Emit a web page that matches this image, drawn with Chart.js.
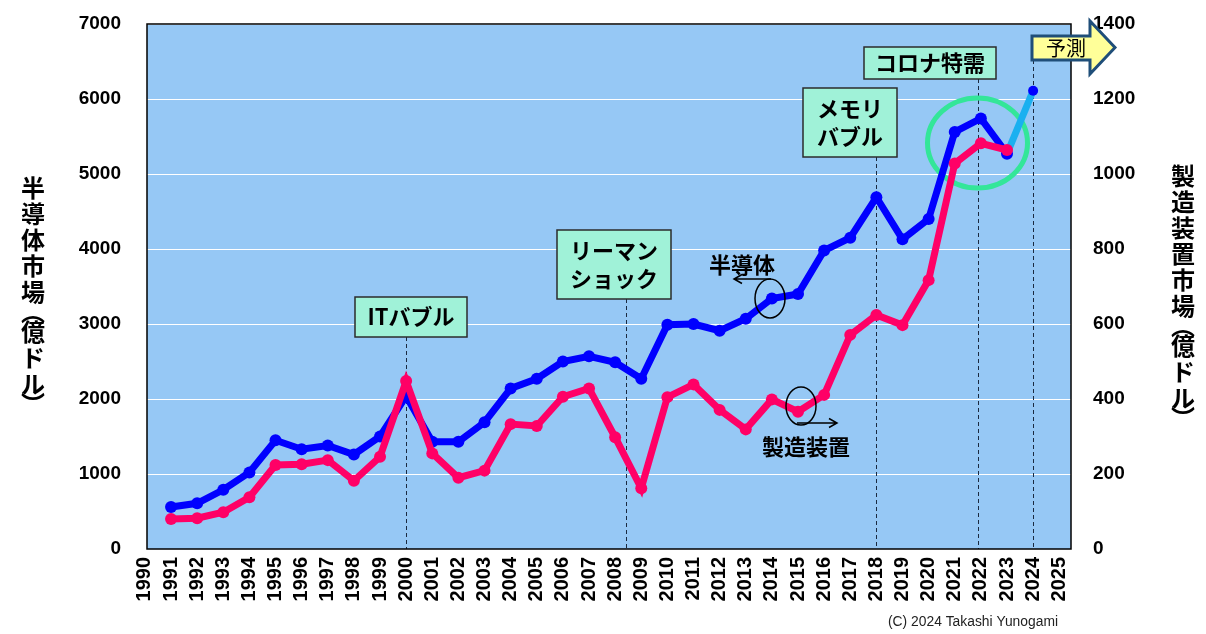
<!DOCTYPE html>
<html>
<head>
<meta charset="utf-8">
<script src="https://cdn.jsdelivr.net/npm/chart.js@4"></script>
<style>
html,body{margin:0;padding:0;background:#fff;}
#wrap{width:1206px;height:634px;position:relative;}
</style>
</head>
<body>
<div id="wrap"><canvas id="c"></canvas></div>
<script>
// ---- data ----
const years = [1991,1992,1993,1994,1995,1996,1997,1998,1999,2000,2001,2002,2003,2004,2005,2006,2007,2008,2009,2010,2011,2012,2013,2014,2015,2016,2017,2018,2019,2020,2021,2022,2023];
const semiconductorMarket = [560,610,790,1020,1450,1330,1380,1260,1500,2040,1430,1430,1690,2140,2270,2500,2570,2490,2270,2990,3000,2910,3070,3340,3400,3980,4150,4690,4130,4400,5560,5740,5270];
const equipmentMarket = [80,82,98,138,224,226,237,182,246,448,255,190,209,333,328,406,428,298,162,405,439,371,319,399,366,411,571,624,597,717,1028,1082,1064];
const forecastYears = [2023,2024];
const forecastValues = [5270,6110];
const axisYears = [1990,1991,1992,1993,1994,1995,1996,1997,1998,1999,2000,2001,2002,2003,2004,2005,2006,2007,2008,2009,2010,2011,2012,2013,2014,2015,2016,2017,2018,2019,2020,2021,2022,2023,2024,2025];
const leftTicks = [0,1000,2000,3000,4000,5000,6000,7000];
const rightTicks = [0,200,400,600,800,1000,1200,1400];
const leftTitle = ['半','導','体','市','場','︵','億','ド','ル','︶'];
const rightTitle = ['製','造','装','置','市','場','︵','億','ド','ル','︶'];

const JP = "'Noto Sans CJK JP','Noto Sans CJK SC',sans-serif";
const NUM = "'Liberation Sans',Arial,sans-serif";

function drawVertical(ctx, chars, x, y0, step, parenStep){
  ctx.save();
  ctx.font = "bold 24px " + JP;
  ctx.fillStyle = '#000';
  ctx.textAlign = 'center';
  ctx.textBaseline = 'middle';
  let y = y0;
  chars.forEach((ch, i) => {
    const isParen = (ch === '︵' || ch === '︶');
    if (i > 0) {
      const prevParen = (chars[i-1] === '︵' || chars[i-1] === '︶');
      y += (isParen || prevParen) ? parenStep : step;
    }
    ctx.fillText(ch, x, y);
  });
  ctx.restore();
}

function box(ctx, x1, y1, x2, y2, lines, lineGap){
  ctx.save();
  ctx.fillStyle = '#a0f2d8';
  ctx.strokeStyle = '#2b2b2b';
  ctx.lineWidth = 1.5;
  ctx.fillRect(x1, y1, x2-x1, y2-y1);
  ctx.strokeRect(x1, y1, x2-x1, y2-y1);
  ctx.fillStyle = '#000';
  ctx.font = "bold 22px " + JP;
  ctx.textAlign = 'center';
  ctx.textBaseline = 'middle';
  const cx = (x1+x2)/2, cy = (y1+y2)/2;
  const n = lines.length;
  lines.forEach((t,i) => ctx.fillText(t, cx, cy + (i-(n-1)/2)*lineGap));
  ctx.restore();
}

const annot = {
  id: 'annot',
  beforeDraw(chart){
    const {ctx, chartArea:a} = chart;
    ctx.save();
    ctx.fillStyle = '#96c8f5';
    ctx.fillRect(a.left, a.top, a.right-a.left, a.bottom-a.top);
    ctx.restore();
  },
  beforeDatasetsDraw(chart){
    const {ctx, chartArea:a, scales} = chart;
    const xs = scales.x;
    ctx.save();
    ctx.strokeStyle = '#1a2a40';
    ctx.lineWidth = 1;
    ctx.setLineDash([4,3]);
    const marks = [[2000,337],[2008.4,299],[2018,157],[2021.9,79],[2024,60]];
    marks.forEach(([yr, top]) => {
      const px = Math.round(xs.getPixelForValue(yr)) + 0.5;
      ctx.beginPath(); ctx.moveTo(px, top); ctx.lineTo(px, a.bottom); ctx.stroke();
    });
    ctx.setLineDash([]);
    // green ellipse
    ctx.strokeStyle = '#33e699';
    ctx.lineWidth = 5;
    ctx.beginPath();
    ctx.ellipse(977.5, 143, 50, 45, 0, 0, Math.PI*2);
    ctx.stroke();
    ctx.restore();
  },
  afterDatasetsDraw(chart){
    const {ctx, chartArea:a} = chart;
    ctx.save();
    // plot border
    ctx.strokeStyle = '#000';
    ctx.lineWidth = 1.5;
    ctx.strokeRect(a.left, a.top, a.right-a.left, a.bottom-a.top);

    // boxes
    box(ctx, 355, 297, 467, 337, ['ITバブル'], 28);
    box(ctx, 557, 230, 671, 299, ['リーマン','ショック'], 28);
    box(ctx, 803, 88, 897, 157, ['メモリ','バブル'], 28);
    box(ctx, 864, 47, 996, 79, ['コロナ特需'], 28);

    // forecast arrow
    ctx.beginPath();
    ctx.moveTo(1032, 36);
    ctx.lineTo(1090, 36);
    ctx.lineTo(1090, 21);
    ctx.lineTo(1115, 47.5);
    ctx.lineTo(1090, 74);
    ctx.lineTo(1090, 60);
    ctx.lineTo(1032, 60);
    ctx.closePath();
    ctx.fillStyle = '#ffff99';
    ctx.fill();
    ctx.strokeStyle = '#1f4e79';
    ctx.lineWidth = 3;
    ctx.lineJoin = 'miter';
    ctx.stroke();
    ctx.fillStyle = '#000';
    ctx.font = "20px " + JP;
    ctx.textAlign = 'center';
    ctx.textBaseline = 'middle';
    ctx.fillText('予測', 1066, 48);

    // series labels with ellipses and arrows
    ctx.strokeStyle = '#000';
    ctx.lineWidth = 1.5;
    ctx.beginPath(); ctx.ellipse(770, 298.5, 15, 19.5, 0, 0, Math.PI*2); ctx.stroke();
    ctx.beginPath(); ctx.ellipse(801, 406, 15, 19, 0, 0, Math.PI*2); ctx.stroke();
    // arrow left (半導体)
    ctx.beginPath();
    ctx.moveTo(771, 279); ctx.lineTo(734, 279);
    ctx.moveTo(742, 274.5); ctx.lineTo(734, 279); ctx.lineTo(742, 283.5);
    ctx.stroke();
    // arrow right (製造装置)
    ctx.beginPath();
    ctx.moveTo(797, 423); ctx.lineTo(837, 423);
    ctx.moveTo(829, 418.5); ctx.lineTo(837, 423); ctx.lineTo(829, 427.5);
    ctx.stroke();
    ctx.fillStyle = '#000';
    ctx.font = "bold 22px " + JP;
    ctx.textAlign = 'center';
    ctx.textBaseline = 'middle';
    ctx.fillText('半導体', 742, 265);
    ctx.fillText('製造装置', 806, 447);

    // axis titles (vertical)
    drawVertical(ctx, leftTitle, 33, 188, 26, 20);
    drawVertical(ctx, rightTitle, 1183, 176, 26, 20);

    // copyright (condensed to fit its box)
    ctx.font = "14px 'Liberation Sans Narrow','Liberation Sans',Arial,sans-serif";
    ctx.textAlign = 'left';
    ctx.textBaseline = 'middle';
    ctx.fillStyle = '#222';
    const txt = '(C) 2024 Takashi Yunogami';
    const w = ctx.measureText(txt).width;
    ctx.translate(888, 622);
    ctx.scale(170 / w, 1);
    ctx.fillText(txt, 0, 0);
    ctx.restore();
  }
};

const pts = (xs, ys) => xs.map((x,i) => ({x, y: ys[i]}));
const zeroPad = s => { s.paddingTop = 0; s.paddingBottom = 0; s.paddingLeft = 0; s.paddingRight = 0; };

new Chart(document.getElementById('c'), {
  type: 'line',
  data: {
    datasets: [
      {
        label: '製造装置',
        data: pts(years, equipmentMarket),
        yAxisID: 'y1',
        borderColor: '#ff0066',
        backgroundColor: '#ff0066',
        pointBackgroundColor: '#ff0066',
        pointBorderWidth: 0,
        borderWidth: 7,
        pointRadius: 6,
        tension: 0,
        order: 0
      },
      {
        label: '半導体',
        data: pts(years, semiconductorMarket),
        yAxisID: 'y',
        borderColor: '#0000ff',
        backgroundColor: '#0000ff',
        pointBackgroundColor: '#0000ff',
        pointBorderWidth: 0,
        borderWidth: 7,
        pointRadius: 6,
        tension: 0,
        order: 1
      },
      {
        label: '予測',
        data: pts(forecastYears, forecastValues),
        yAxisID: 'y',
        borderColor: '#1ab0f0',
        backgroundColor: '#0000ff',
        pointBackgroundColor: '#0000ff',
        pointBorderWidth: 0,
        borderWidth: 7,
        pointRadius: [0,5],
        tension: 0,
        order: 2
      }
    ]
  },
  options: {
    responsive: true,
    maintainAspectRatio: false,
    animation: false,
    devicePixelRatio: 1,
    layout: { autoPadding: false, padding: { top: 24, left: 0, right: 0, bottom: 0 } },
    plugins: { legend: { display: false }, tooltip: { enabled: false } },
    scales: {
      x: {
        type: 'linear',
        min: 1990.08,
        max: 2025.45,
        afterBuildTicks: s => { s.ticks = axisYears.map(v => ({value: v})); },
        afterFit: s => { s.height = 85; zeroPad(s); },
        grid: { display: false, drawTicks: false },
        border: { display: false },
        ticks: {
          autoSkip: false, minRotation: 90, maxRotation: 90, padding: 8,
          color: '#000', font: { family: NUM, size: 20, weight: 'bold' },
          callback: v => String(v)
        }
      },
      y: {
        position: 'left',
        min: 0, max: 7000,
        afterBuildTicks: s => { s.ticks = leftTicks.map(v => ({value: v})); },
        afterFit: s => { s.width = 147; zeroPad(s); },
        grid: { color: '#ffffff', lineWidth: 1, drawTicks: false },
        border: { display: false },
        ticks: { padding: 26, color: '#000', font: { family: NUM, size: 19, weight: 'bold' }, callback: v => String(v) }
      },
      y1: {
        position: 'right',
        min: 0, max: 1400,
        afterBuildTicks: s => { s.ticks = rightTicks.map(v => ({value: v})); },
        afterFit: s => { s.width = 135; zeroPad(s); },
        grid: { display: false, drawTicks: false },
        border: { display: false },
        ticks: { padding: 22, color: '#000', font: { family: NUM, size: 19, weight: 'bold' }, callback: v => String(v) }
      }
    }
  },
  plugins: [annot]
});
</script>
</body>
</html>
